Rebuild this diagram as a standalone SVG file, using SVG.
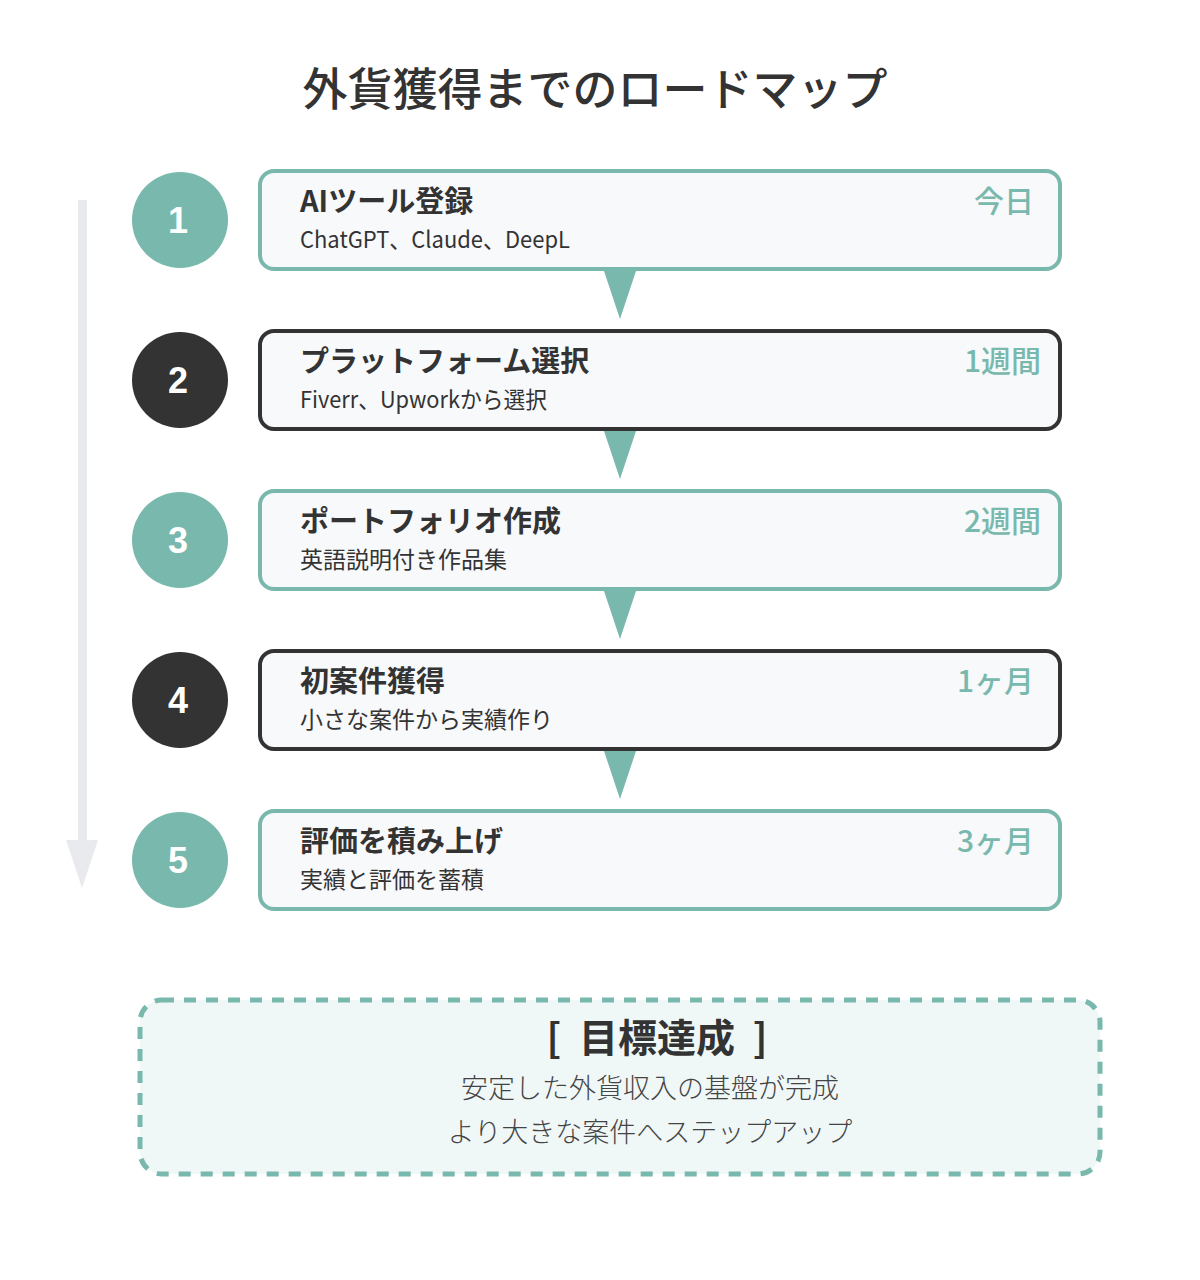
<svg xmlns="http://www.w3.org/2000/svg" width="1200" height="1280" viewBox="0 0 1200 1280">
<style>
.jp{font-family:"Noto Sans CJK JP","Noto Sans",sans-serif}
.title{font-size:45px;font-weight:500;fill:#333}
.box{fill:#f8f9fb;stroke-width:4}
.t{stroke:#78b8ad}
.d{stroke:#333}
.circT{fill:#78b8ad}
.circD{fill:#333}
.num{font-family:"Liberation Sans",Arial,sans-serif;font-size:36px;font-weight:700;fill:#fff;text-anchor:middle}
.h{font-size:29px;font-weight:700;fill:#333}
.s{font-size:23px;font-weight:400;fill:#333}
.r{font-size:30px;font-weight:500;fill:#78b8ad;text-anchor:end}
.tri{fill:#78b8ad}
.gh{font-size:39px;font-weight:700;fill:#333;text-anchor:middle}
.gl{font-size:27px;font-weight:300;fill:#444;text-anchor:middle}
</style>
<rect width="1200" height="1280" fill="#fff"/>
<text class="jp title" x="595" y="106" text-anchor="middle">外貨獲得までのロードマップ</text>

<g id="timeline">
<rect x="78" y="200" width="9" height="642" fill="#e9eaee"/>
<polygon points="66,840 98,840 82,888" fill="#e9eaee"/>
</g>

<g id="connectors">
<polygon class="tri" points="604,271 636,271 620,319"/>
<polygon class="tri" points="604,431 636,431 620,479"/>
<polygon class="tri" points="604,591 636,591 620,639"/>
<polygon class="tri" points="604,751 636,751 620,799"/>
</g>

<g id="step1">
<circle class="circT" cx="180" cy="220" r="48"/>
<text class="num" x="178" y="233">1</text>
<rect class="box t" x="260" y="171" width="800" height="98" rx="14"/>
<text class="jp h" x="300" y="212">AIツール登録</text>
<text class="jp s" x="300" y="248" textLength="270" lengthAdjust="spacingAndGlyphs">ChatGPT、Claude、DeepL</text>
<text class="jp r" x="1034" y="212">今日</text>
</g>

<g id="step2">
<circle class="circD" cx="180" cy="380" r="48"/>
<text class="num" x="178" y="393">2</text>
<rect class="box d" x="260" y="331" width="800" height="98" rx="14"/>
<text class="jp h" x="300" y="372">プラットフォーム選択</text>
<text class="jp s" x="300" y="408" textLength="247" lengthAdjust="spacingAndGlyphs">Fiverr、Upworkから選択</text>
<text class="jp r" x="1041" y="372">1週間</text>
</g>

<g id="step3">
<circle class="circT" cx="180" cy="540" r="48"/>
<text class="num" x="178" y="553">3</text>
<rect class="box t" x="260" y="491" width="800" height="98" rx="14"/>
<text class="jp h" x="300" y="532">ポートフォリオ作成</text>
<text class="jp s" x="300" y="568">英語説明付き作品集</text>
<text class="jp r" x="1041" y="532">2週間</text>
</g>

<g id="step4">
<circle class="circD" cx="180" cy="700" r="48"/>
<text class="num" x="178" y="713">4</text>
<rect class="box d" x="260" y="651" width="800" height="98" rx="14"/>
<text class="jp h" x="300" y="692">初案件獲得</text>
<text class="jp s" x="300" y="728">小さな案件から実績作り</text>
<text class="jp r" x="1034" y="692">1ヶ月</text>
</g>

<g id="step5">
<circle class="circT" cx="180" cy="860" r="48"/>
<text class="num" x="178" y="873">5</text>
<rect class="box t" x="260" y="811" width="800" height="98" rx="14"/>
<text class="jp h" x="300" y="852">評価を積み上げ</text>
<text class="jp s" x="300" y="888">実績と評価を蓄積</text>
<text class="jp r" x="1034" y="852">3ヶ月</text>
</g>

<g id="goal">
<rect x="140" y="1000" width="960" height="174" rx="22" fill="#eff7f7" stroke="#78b8ad" stroke-width="5" stroke-dasharray="12 10"/>
<text class="jp gh" x="657" y="1052" xml:space="preserve">[  目標達成  ]</text>
<text class="jp gl" x="650" y="1098">安定した外貨収入の基盤が完成</text>
<text class="jp gl" x="650" y="1142">より大きな案件へステップアップ</text>
</g>
</svg>
